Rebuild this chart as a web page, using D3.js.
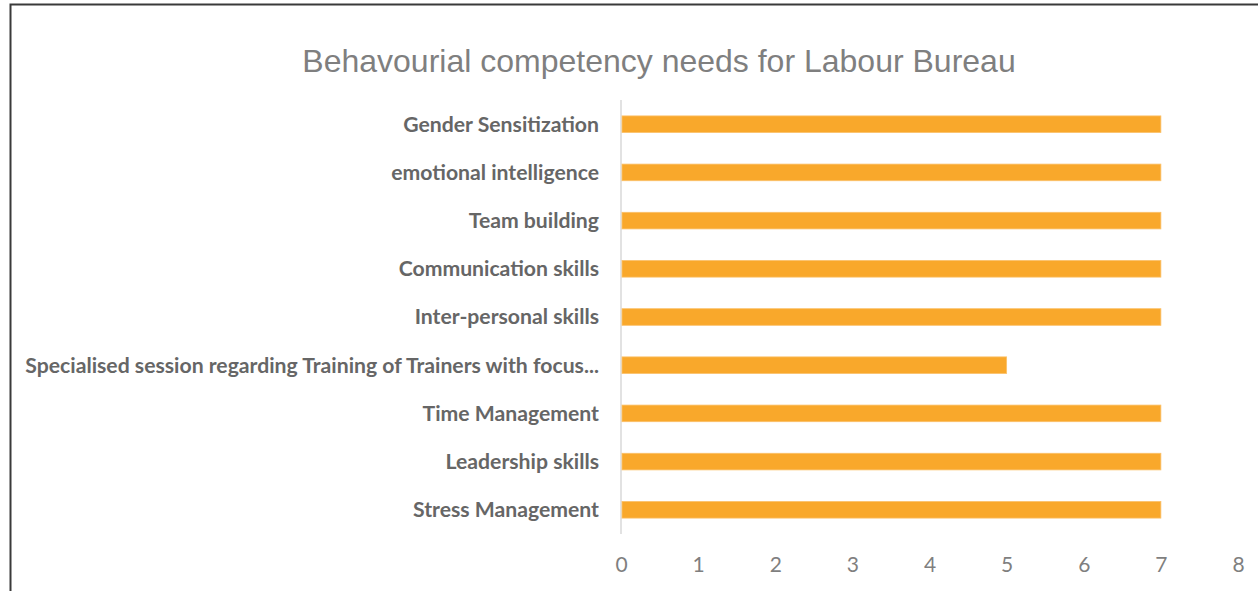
<!DOCTYPE html>
<html>
<head>
<meta charset="utf-8">
<script src="https://cdn.jsdelivr.net/npm/d3@7"></script>
<style>
  body { margin: 0; background: #fff; }
  svg { display: block; }
</style>
</head>
<body>
<svg width="1258" height="591"></svg>
<script>
// data, top to bottom as drawn
var categories = [
  'Gender Sensitization',
  'emotional intelligence',
  'Team building',
  'Communication skills',
  'Inter-personal skills',
  'Specialised session regarding Training of Trainers with focus...',
  'Time Management',
  'Leadership skills',
  'Stress Management'
];
var values = [7, 7, 7, 7, 7, 5, 7, 7, 7];
var xTicks = [0, 1, 2, 3, 4, 5, 6, 7, 8];
var title = 'Behavourial competency needs for Labour Bureau';

var svg = d3.select('svg');

// chart frame (only left and top edges fall inside the window)
svg.append('rect')
    .attr('x', 10.5).attr('y', 4.5)
    .attr('width', 1300).attr('height', 700)
    .attr('fill', 'none')
    .attr('stroke', '#3a3a3a')
    .attr('stroke-width', 2);

var x = d3.scaleLinear().domain([0, 8]).range([621, 1238]);
var y = d3.scaleBand().domain(categories).range([100, 534]).paddingInner(0.655).paddingOuter(0.33);

svg.append('text')
    .attr('x', 659).attr('y', 72)
    .attr('text-anchor', 'middle')
    .attr('font-family', 'Liberation Sans, Arial, sans-serif')
    .attr('font-size', 32)
    .attr('fill', '#7f7f7f')
    .text(title);

// vertical axis line
svg.append('line')
    .attr('x1', x(0)).attr('x2', x(0))
    .attr('y1', 100).attr('y2', 534)
    .attr('stroke', '#d9d9d9')
    .attr('stroke-width', 1.5);

svg.selectAll('.bar')
    .data(values)
    .enter()
    .append('rect')
    .attr('class', 'bar')
    .attr('x', x(0) + 1)
    .attr('y', function(d, i) { return y(categories[i]); })
    .attr('width', function(d) { return x(d) - x(0) - 1; })
    .attr('height', y.bandwidth())
    .attr('fill', '#f9a82b')
    .attr('stroke', '#fbc16a')
    .attr('stroke-width', 0.8);

svg.selectAll('.cat')
    .data(categories)
    .enter()
    .append('text')
    .attr('class', 'cat')
    .attr('x', 599)
    .attr('y', function(d) { return y(d) + y.bandwidth() / 2; })
    .attr('dy', '0.35em')
    .attr('text-anchor', 'end')
    .attr('font-family', 'Lato, sans-serif')
    .attr('font-weight', 'bold')
    .attr('font-size', 21.2)
    .attr('fill', '#666666')
    .text(function(d) { return d; });

var xAxis = svg.append('g')
    .attr('transform', 'translate(0,' + 534 + ')')
    .call(d3.axisBottom(x).tickValues(xTicks).tickSize(0).tickPadding(23));
xAxis.select('.domain').remove();
xAxis.selectAll('text')
    .attr('font-family', 'Lato, sans-serif')
    .attr('font-size', 21)
    .attr('fill', '#7f7f7f');
</script>
</body>
</html>
